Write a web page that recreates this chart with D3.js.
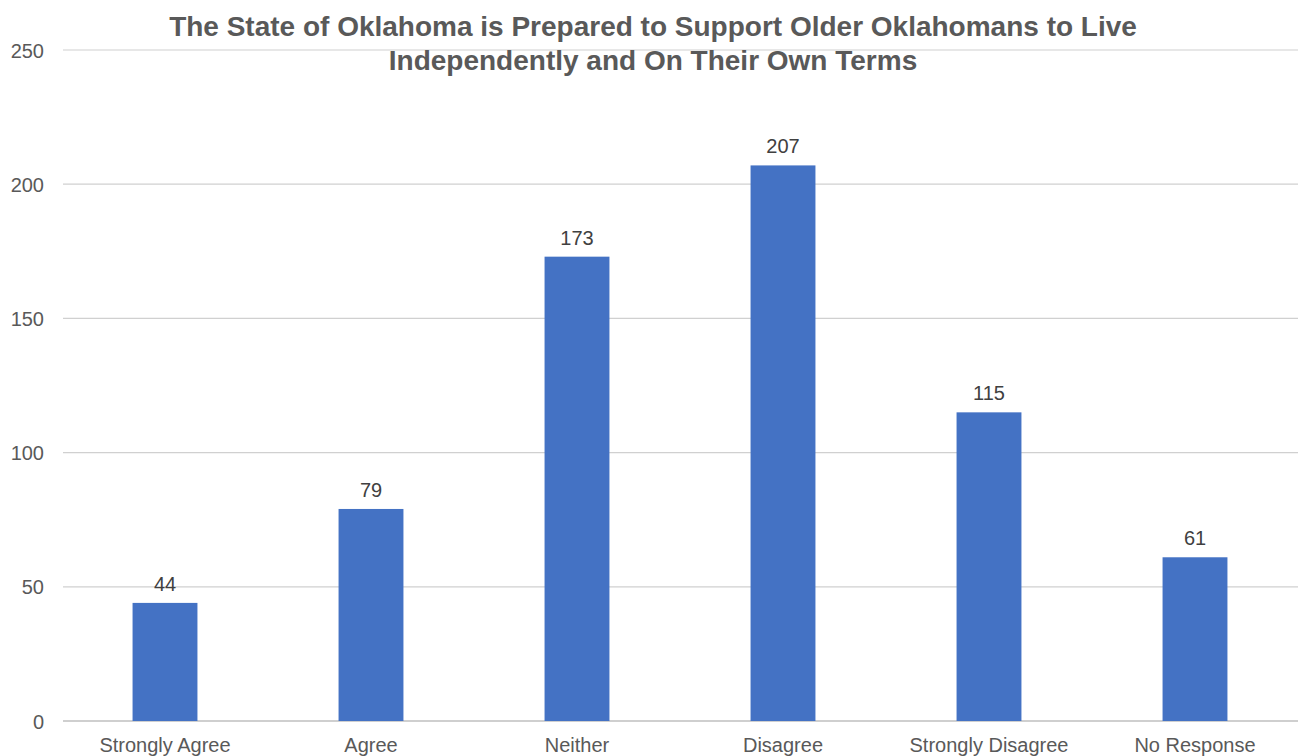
<!DOCTYPE html>
<html><head><meta charset="utf-8">
<script src="https://cdn.jsdelivr.net/npm/d3@7"></script>
<style>body{margin:0;background:#fff;}svg{display:block;font-family:"Liberation Sans",Arial,sans-serif;}</style>
</head><body>
<svg id="c" width="1298" height="756"></svg>
<script>
const categories = ["Strongly Agree","Agree","Neither","Disagree","Strongly Disagree","No Response"];
const values = [44,79,173,207,115,61];
const yTicks = [0,50,100,150,200,250];
const titleLines = ["The State of Oklahoma is Prepared to Support Older Oklahomans to Live","Independently and On Their Own Terms"];

const svg = d3.select("#c");
const mLeft = 62, mRight = 1298, mTop = 50, mBottom = 721;
const x = d3.scaleBand().domain(categories).range([mLeft,mRight]).paddingInner(0.685).paddingOuter(0.3425);
const y = d3.scaleLinear().domain([0,250]).range([mBottom,mTop]);

// gridlines
svg.append("g").selectAll("line").data(yTicks).join("line")
  .attr("x1",mLeft+1).attr("x2",mRight).attr("y1",d=>y(d)).attr("y2",d=>y(d))
  .attr("stroke",d=>d===0?"#bfbfbf":"#d0d0d0").attr("stroke-width",d=>d===0?1.5:1.2);

// y axis labels
const yAxis = d3.axisLeft(y).tickValues(yTicks).tickSize(0).tickPadding(0);
const ga = svg.append("g").attr("transform",`translate(44,0)`).call(yAxis);
ga.select(".domain").remove();
ga.selectAll("text").attr("font-size",20).attr("fill","#595959").attr("font-family","Liberation Sans, Arial, sans-serif").attr("dy","0.35em");

// bars
svg.append("g").selectAll("rect").data(values).join("rect")
  .attr("x",(d,i)=>x(categories[i])).attr("width",x.bandwidth())
  .attr("y",d=>y(d)).attr("height",d=>y(0)-y(d)).attr("fill","#4472C4");

// value labels
svg.append("g").selectAll("text").data(values).join("text")
  .attr("x",(d,i)=>x(categories[i])+x.bandwidth()/2).attr("y",d=>y(d)-12)
  .attr("text-anchor","middle").attr("font-size",20).attr("fill","#404040").text(d=>d);

// x labels
const xAxis = d3.axisBottom(x).tickSize(0).tickPadding(0);
const gx = svg.append("g").attr("transform",`translate(0,${mBottom})`).call(xAxis);
gx.select(".domain").remove();
gx.selectAll("text").attr("font-size",20).attr("fill","#595959").attr("font-family","Liberation Sans, Arial, sans-serif").attr("dy",null).attr("y",31);

// title
svg.append("g").selectAll("text").data(titleLines).join("text")
  .attr("x",653).attr("y",(d,i)=>36+i*34).attr("text-anchor","middle")
  .attr("font-size",28).attr("font-weight","bold").attr("fill","#595959").text(d=>d);
</script>
</body></html>
